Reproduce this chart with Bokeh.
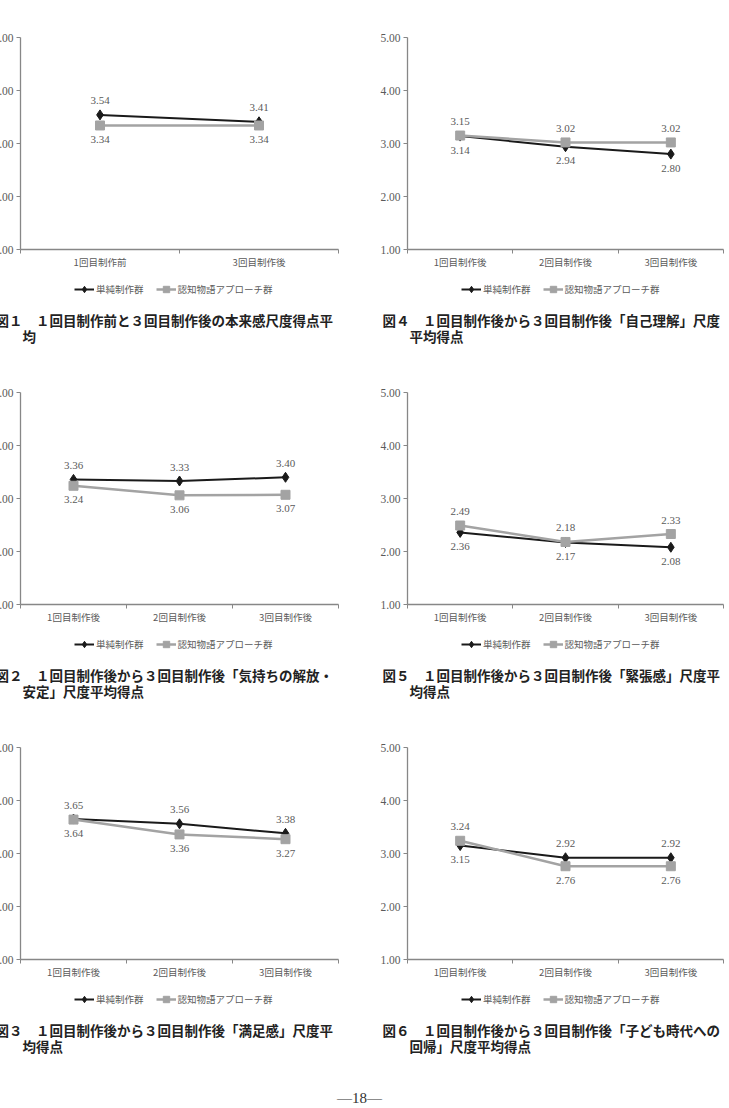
from bokeh.plotting import figure
from bokeh.models import (Range1d, FixedTicker, LinearAxis, Legend, LegendItem,
                          Label, PrintfTickFormatter)
from bokeh.layouts import column, row
from bokeh.embed import file_html
from bokeh.resources import INLINE
from bokeh.core.properties import value

# ---------------- data ----------------
series_names = ["単純制作群", "認知物語アプローチ群"]
cats_two = ["1回目制作前", "3回目制作後"]
cats_three = ["1回目制作後", "2回目制作後", "3回目制作後"]
y_ticks = [1, 2, 3, 4, 5]

fig1_simple = [3.54, 3.41]
fig1_story = [3.34, 3.34]
fig2_simple = [3.36, 3.33, 3.40]
fig2_story = [3.24, 3.06, 3.07]
fig3_simple = [3.65, 3.56, 3.38]
fig3_story = [3.64, 3.36, 3.27]
fig4_simple = [3.14, 2.94, 2.80]
fig4_story = [3.15, 3.02, 3.02]
fig5_simple = [2.36, 2.17, 2.08]
fig5_story = [2.49, 2.18, 2.33]
fig6_simple = [3.15, 2.92, 2.92]
fig6_story = [3.24, 2.76, 2.76]

cap1 = ["図１　１回目制作前と３回目制作後の本来感尺度得点平", "均"]
cap2 = ["図２　１回目制作後から３回目制作後「気持ちの解放・", "安定」尺度平均得点"]
cap3 = ["図３　１回目制作後から３回目制作後「満足感」尺度平", "均得点"]
cap4 = ["図４　１回目制作後から３回目制作後「自己理解」尺度", "平均得点"]
cap5 = ["図５　１回目制作後から３回目制作後「緊張感」尺度平", "均得点"]
cap6 = ["図６　１回目制作後から３回目制作後「子ども時代への", "回帰」尺度平均得点"]
page_number = "—18—"

# ---------------- style ----------------
JP = "Noto Sans CJK JP"
SERIF = "Liberation Serif"
AXIS_COLOR = "#878787"
BLACK = "#1a1a1a"
GRAY = "#a3a3a3"
LABEL_COLOR = "#5a5a5a"
FRAME_H = 212
AXIS_B = 24
ROW_H = 360


def style_blank(p):
    p.outline_line_color = None
    p.xgrid.visible = False
    p.ygrid.visible = False
    p.background_fill_color = "white"
    p.border_fill_color = "white"


def make_chart(cats, simple, story, caption, left, top):
    n = len(cats)
    fw = 318 if left else 316
    rb = 26 if left else 6
    W = 43 + fw + rb
    p = figure(width=W, height=top + FRAME_H + AXIS_B,
               x_range=Range1d(0, n), y_range=Range1d(1, 5),
               x_axis_type=None, y_axis_type=None,
               toolbar_location=None, output_backend="svg",
               min_border_left=43, min_border_right=rb,
               min_border_top=top, min_border_bottom=AXIS_B)
    style_blank(p)

    xs = [i + 0.5 for i in range(n)]

    yaxis = LinearAxis(ticker=FixedTicker(ticks=y_ticks, minor_ticks=[]),
                       formatter=PrintfTickFormatter(format="%.2f"),
                       axis_line_color=AXIS_COLOR, axis_line_width=1.3,
                       major_tick_line_color=AXIS_COLOR, major_tick_out=4, major_tick_in=0,
                       minor_tick_line_color=None, major_label_standoff=3,
                       major_label_text_font=SERIF, major_label_text_font_size="11.5px",
                       major_label_text_color=LABEL_COLOR)
    p.add_layout(yaxis, "left")

    xaxis = LinearAxis(ticker=FixedTicker(ticks=xs, minor_ticks=list(range(n + 1))),
                       major_label_overrides={x: c for x, c in zip(xs, cats)},
                       axis_line_color=AXIS_COLOR, axis_line_width=1.3,
                       major_tick_line_color=None, major_tick_out=4, major_tick_in=0,
                       minor_tick_line_color=AXIS_COLOR, minor_tick_out=4, minor_tick_in=0,
                       major_label_standoff=1,
                       major_label_text_font=JP, major_label_text_font_size="9.5px",
                       major_label_text_color=LABEL_COLOR)
    p.add_layout(xaxis, "below")

    p.line(xs, simple, line_color=BLACK, line_width=2)
    p.scatter(xs, simple, marker="diamond", size=10, fill_color=BLACK, line_color=BLACK)
    p.line(xs, story, line_color=GRAY, line_width=2.5)
    p.scatter(xs, story, marker="square", size=9, fill_color=GRAY, line_color=GRAY)

    for vals, other in ((simple, story), (story, simple)):
        offs = [-14 if v > o else 14 for v, o in zip(vals, other)]
        p.text(xs, vals, text=[f"{v:.2f}" for v in vals], y_offset=offs,
               text_align="center", text_baseline="middle",
               text_font=value(SERIF), text_font_size="11px",
               text_color=LABEL_COLOR)

    # caption strip (legend + figure caption) below the chart
    H = ROW_H - (top + FRAME_H + AXIS_B)
    c = figure(width=W, height=H, x_range=Range1d(0, W), y_range=Range1d(0, H),
               x_axis_type=None, y_axis_type=None,
               toolbar_location=None, output_backend="svg", min_border=0)
    style_blank(c)
    # legend keys (their single point lies outside the visible range)
    off = [-1000]
    d1 = c.line(off, off, line_color=BLACK, line_width=2)
    d2 = c.scatter(off, off, marker="diamond", size=10, fill_color=BLACK, line_color=BLACK)
    d3 = c.line(off, off, line_color=GRAY, line_width=2.5)
    d4 = c.scatter(off, off, marker="square", size=9, fill_color=GRAY, line_color=GRAY)
    leg_h = 26
    legend = Legend(items=[LegendItem(label=series_names[0], renderers=[d1, d2]),
                           LegendItem(label=series_names[1], renderers=[d3, d4])],
                    orientation="horizontal",
                    location=(43 + 54, H - (35 - AXIS_B) - leg_h // 2),
                    margin=0, padding=5, spacing=12,
                    glyph_width=20, glyph_height=16, label_height=16,
                    label_standoff=2, border_line_color=None,
                    background_fill_alpha=0,
                    label_text_font=JP, label_text_font_size="9.5px",
                    label_text_color=LABEL_COLOR)
    c.add_layout(legend, "center")

    for txt, dx, dy in ((caption[0], 43 - 25, 70), (caption[1], 43 + 2, 86)):
        c.add_layout(Label(x=dx, y=H - (dy - AXIS_B), text=txt,
                           text_align="left", text_baseline="middle",
                           text_font=JP, text_font_size="13.5px",
                           text_font_style="bold", text_color="#222222"))

    if left:
        p.margin = (0, 0, 0, -23)
        c.margin = (0, 0, 0, -23)
    return p, c


f1, c1 = make_chart(cats_two, fig1_simple, fig1_story, cap1, True, 37)
f4, c4 = make_chart(cats_three, fig4_simple, fig4_story, cap4, False, 37)
f2, c2 = make_chart(cats_three, fig2_simple, fig2_story, cap2, True, 32)
f5, c5 = make_chart(cats_three, fig5_simple, fig5_story, cap5, False, 32)
f3, c3 = make_chart(cats_three, fig3_simple, fig3_story, cap3, True, 27)
f6, c6 = make_chart(cats_three, fig6_simple, fig6_story, cap6, False, 27)

footer = figure(width=729, height=28, x_range=Range1d(0, 729),
                y_range=Range1d(0, 28), x_axis_type=None, y_axis_type=None,
                toolbar_location=None, output_backend="svg", min_border=0)
style_blank(footer)
footer.add_layout(Label(x=359, y=11, text=page_number, text_align="center",
                        text_baseline="middle", text_font=SERIF,
                        text_font_size="15px", text_color="#333333"))

layout = column(row(f1, f4), row(c1, c4),
                row(f2, f5), row(c2, c5),
                row(f3, f6), row(c3, c6),
                footer)

open("out.html", "w").write(file_html(layout, INLINE))
